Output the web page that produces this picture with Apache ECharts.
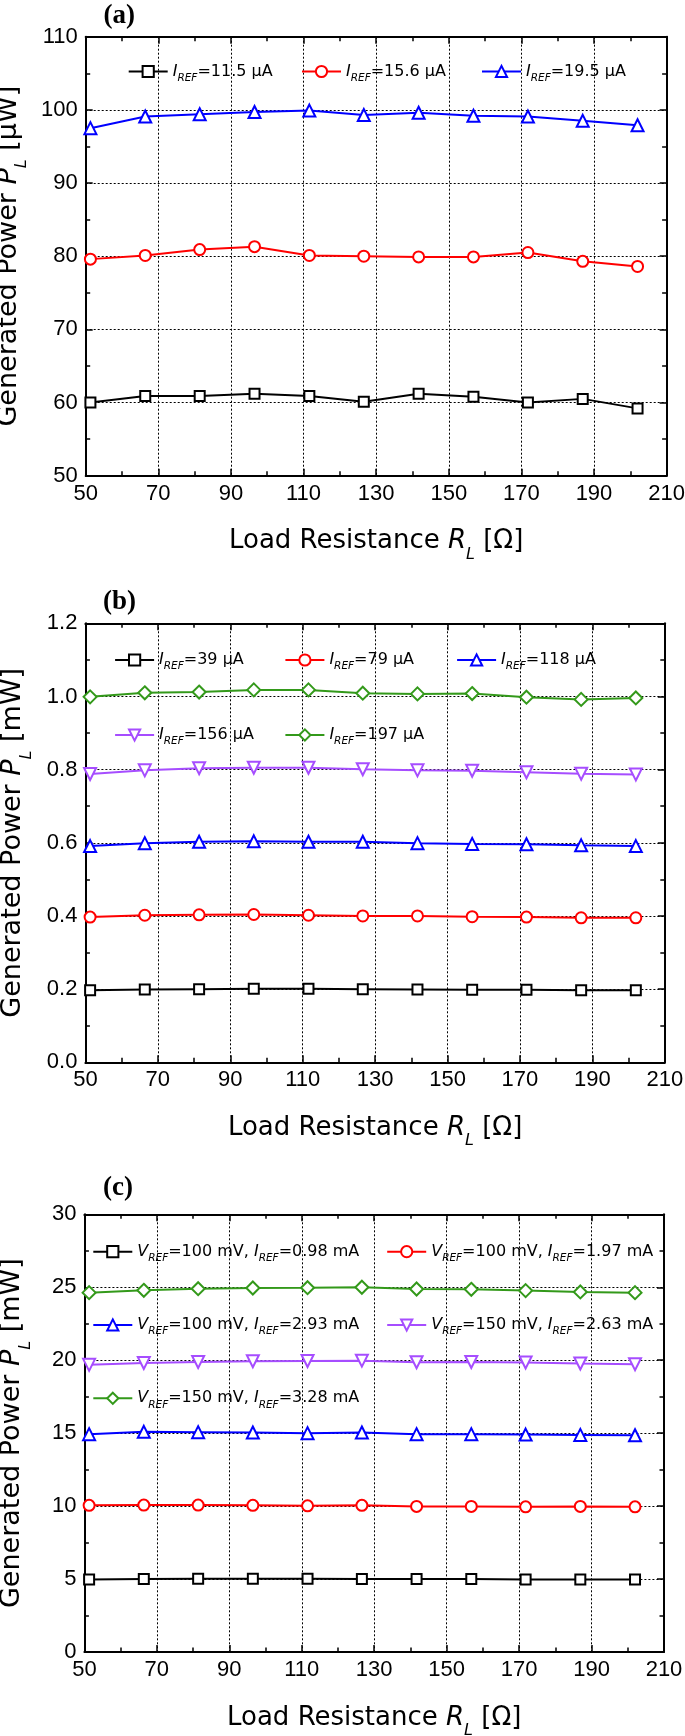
<!DOCTYPE html>
<html>
<head>
<meta charset="utf-8">
<script src="https://cdn.jsdelivr.net/npm/echarts@6/dist/echarts.min.js"></script>
<style>
  html, body { margin: 0; padding: 0; background: #fff; }
  #chart { width: 685px; height: 1736px; }
</style>
</head>
<body>
<div id="chart"></div>
<script>
// ---------- data ----------
const loadR = [51.3, 66.4, 81.4, 96.5, 111.6, 126.6, 141.7, 156.8, 171.8, 186.9, 202.0];
const xTicks = [50, 70, 90, 110, 130, 150, 170, 190, 210];

// panel (a) [µW]
const aNames = ['I_REF=11.5 μA', 'I_REF=15.6 μA', 'I_REF=19.5 μA'];
const a_I11_5 = [60.0, 60.9, 60.9, 61.2, 60.9, 60.1, 61.2, 60.8, 60.0, 60.5, 59.2];
const a_I15_6 = [79.6, 80.1, 80.9, 81.3, 80.1, 80.0, 79.9, 79.9, 80.5, 79.3, 78.6];
const a_I19_5 = [97.5, 99.1, 99.4, 99.7, 99.9, 99.3, 99.6, 99.2, 99.1, 98.5, 97.9];

// panel (b) [mW]
const bNames = ['I_REF=39 μA', 'I_REF=79 μA', 'I_REF=118 μA', 'I_REF=156 μA', 'I_REF=197 μA'];
const b_I39 = [0.197, 0.199, 0.200, 0.201, 0.201, 0.200, 0.199, 0.198, 0.198, 0.197, 0.197];
const b_I79 = [0.397, 0.402, 0.403, 0.404, 0.402, 0.400, 0.400, 0.398, 0.397, 0.395, 0.395];
const b_I118 = [0.591, 0.599, 0.603, 0.604, 0.603, 0.603, 0.599, 0.597, 0.596, 0.593, 0.591];
const b_I156 = [0.788, 0.798, 0.804, 0.805, 0.805, 0.801, 0.798, 0.797, 0.793, 0.789, 0.787];
const b_I197 = [0.999, 1.010, 1.012, 1.018, 1.018, 1.009, 1.007, 1.008, 0.998, 0.992, 0.996];

// panel (c) [mW]
const cNames = ['V_REF=100 mV, I_REF=0.98 mA', 'V_REF=100 mV, I_REF=1.97 mA', 'V_REF=100 mV, I_REF=2.93 mA',
                'V_REF=150 mV, I_REF=2.63 mA', 'V_REF=150 mV, I_REF=3.28 mA'];
const c_V100_I098 = [4.97, 5.00, 5.02, 5.02, 5.02, 5.00, 5.00, 5.00, 4.97, 4.97, 4.97];
const c_V100_I197 = [10.05, 10.07, 10.07, 10.05, 10.02, 10.05, 9.98, 9.98, 9.95, 9.98, 9.95];
const c_V100_I293 = [14.93, 15.09, 15.07, 15.04, 15.00, 15.04, 14.93, 14.93, 14.90, 14.88, 14.86];
const c_V150_I263 = [19.68, 19.81, 19.88, 19.93, 19.95, 19.97, 19.86, 19.88, 19.84, 19.77, 19.73];
const c_V150_I328 = [24.63, 24.79, 24.90, 24.95, 24.97, 25.00, 24.88, 24.86, 24.77, 24.68, 24.63];

const yTicksA = [50, 60, 70, 80, 90, 100, 110];
const yTicksB = [0.0, 0.2, 0.4, 0.6, 0.8, 1.0, 1.2];
const yTicksC = [0, 5, 10, 15, 20, 25, 30];

// ---------- styling ----------
const TXT = 'DejaVu Sans';
const NUM = '"Liberation Sans", Arial, Helvetica, sans-serif';
const BLACK = '#000000', RED = '#ff0000', BLUE = '#0000ff', PURPLE = '#a64dff', GREEN = '#33991a';

const styles = [
  { color: BLACK, symbol: 'rect', size: 10, rot: 0 },
  { color: RED, symbol: 'circle', size: 11, rot: 0 },
  { color: BLUE, symbol: 'triangle', size: 12, rot: 0 },
  { color: PURPLE, symbol: 'triangle', size: 12, rot: 180 },
  { color: GREEN, symbol: 'diamond', size: 13, rot: 0 }
];

const grids = [
  { left: 85.7, top: 36.7, width: 580.9, height: 439 },
  { left: 85.4, top: 623.3, width: 579.4, height: 439 },
  { left: 84.4, top: 1214.3, width: 579.6, height: 437.7 }
];

function nameRich(fs) {
  return {
    n: { fontFamily: TXT, fontSize: fs, lineHeight: 42, color: '#000' },
    i: { fontFamily: TXT, fontSize: fs, lineHeight: 42, fontStyle: 'italic', color: '#000' },
    s: { fontFamily: TXT, fontSize: 16, lineHeight: 16, fontStyle: 'italic', verticalAlign: 'bottom', color: '#000' }
  };
}
const legendRich = {
  n: { fontFamily: TXT, fontSize: 16, lineHeight: 24, color: '#000' },
  i: { fontFamily: TXT, fontSize: 16, lineHeight: 24, fontStyle: 'italic', color: '#000' },
  s: { fontFamily: TXT, fontSize: 10.5, lineHeight: 10, fontStyle: 'italic', verticalAlign: 'bottom', color: '#000' }
};
function richName(name) {
  return name.split(/([IV])_REF/).map((p, k) => k % 2 ? `{i|${p}}{s|REF}` : (p ? `{n|${p}}` : '')).join('');
}

const xAxes = [], yAxes = [], series = [], legends = [];

function frameAxis(common, extra) { return Object.assign({}, common, extra); }

function addPanel(g, yT, yFmt, unit, names, datasets) {
  const xCommon = {
    type: 'value', gridIndex: g, min: xTicks[0], max: xTicks[xTicks.length - 1], interval: xTicks[1] - xTicks[0],
    axisLine: { show: true, onZero: false, lineStyle: { color: '#000', width: 2 } },
    axisTick: { show: true, inside: true, length: 7, lineStyle: { color: '#000', width: 1.5 } },
    minorTick: { show: true, splitNumber: 2, length: 4.5, lineStyle: { color: '#000', width: 1.5 } },
    splitLine: { show: false }
  };
  xAxes.push(frameAxis(xCommon, {
    position: 'bottom',
    axisLabel: { show: true, fontFamily: NUM, fontSize: 22, color: '#000', margin: 7, showMinLabel: true, showMaxLabel: true },
    splitLine: { show: true, lineStyle: { color: '#000', width: 1, type: [2, 2] } },
    name: '{n|Load Resistance }{i|R}{s|L}{n| [Ω]}',
    nameLocation: 'middle', nameGap: 45,
    nameTextStyle: { rich: nameRich(26) }
  }));
  xAxes.push(frameAxis(xCommon, { position: 'top', axisLabel: { show: false } }));

  const yCommon = {
    type: 'value', gridIndex: g, min: yT[0], max: yT[yT.length - 1], interval: +(yT[1] - yT[0]).toFixed(6),
    axisLine: { show: true, onZero: false, lineStyle: { color: '#000', width: 2 } },
    axisTick: { show: true, inside: true, length: 7, lineStyle: { color: '#000', width: 1.5 } },
    minorTick: { show: true, splitNumber: 2, length: 4.5, lineStyle: { color: '#000', width: 1.5 } },
    splitLine: { show: false }
  };
  yAxes.push(frameAxis(yCommon, {
    position: 'left',
    axisLabel: { show: true, fontFamily: NUM, fontSize: 22, color: '#000', margin: 8, formatter: yFmt, showMinLabel: true, showMaxLabel: true },
    splitLine: { show: true, lineStyle: { color: '#000', width: 1, type: [2, 2] } },
    name: `{n|Generated Power }{i|P}{s|L}{n| [${unit}]}`,
    nameLocation: 'middle', nameGap: 51,
    nameTextStyle: { rich: nameRich(27) }
  }));
  yAxes.push(frameAxis(yCommon, { position: 'right', axisLabel: { show: false } }));

  datasets.forEach((vals, k) => {
    const st = styles[k];
    series.push({
      type: 'line', name: names[k], xAxisIndex: 2 * g, yAxisIndex: 2 * g,
      data: loadR.map((x, j) => [x, vals[j]]),
      color: st.color,
      symbol: st.symbol, symbolSize: st.size, symbolRotate: st.rot, showAllSymbol: true,
      lineStyle: { color: st.color, width: 2 },
      itemStyle: { color: '#ffffff', borderColor: st.color, borderWidth: 2 },
      emphasis: { disabled: true },
      z: 3 + k
    });
  });
}

addPanel(0, yTicksA, v => String(v), 'μW', aNames, [a_I11_5, a_I15_6, a_I19_5]);
addPanel(1, yTicksB, v => v.toFixed(1), 'mW', bNames, [b_I39, b_I79, b_I118, b_I156, b_I197]);
addPanel(2, yTicksC, v => String(v), 'mW', cNames, [c_V100_I098, c_V100_I197, c_V100_I293, c_V150_I263, c_V150_I328]);

// legend placement: [series name, left of line, center y]
const LEG_H = 14;
const legendPlaces = [
  [aNames[0], 127.7, 70.5], [aNames[1], 301, 70.5], [aNames[2], 481, 70.5],
  [bNames[0], 114.1, 659], [bNames[1], 284.4, 659], [bNames[2], 456.1, 659],
  [bNames[3], 114.1, 734], [bNames[4], 284.4, 734],
  [cNames[0], 92.3, 1250.7], [cNames[1], 386.2, 1250.7],
  [cNames[2], 92.3, 1324], [cNames[3], 386.2, 1324],
  [cNames[4], 92.3, 1397.3]
];
legendPlaces.forEach(([nm, lx, cy]) => {
  legends.push({
    data: [nm], left: lx, top: cy - LEG_H / 2, padding: 0, itemGap: 0,
    itemWidth: 39, itemHeight: LEG_H, selectedMode: false,
    formatter: n => richName(n),
    textStyle: { rich: legendRich, color: '#000' }
  });
});

const panelLabels = [['(a)', 103.5, 16.3], ['(b)', 103, 602.5], ['(c)', 103, 1188.3]];

const chart = echarts.init(document.getElementById('chart'), null, { renderer: 'canvas' });
chart.setOption({
  animation: false,
  backgroundColor: '#ffffff',
  grid: grids.map(g => Object.assign({ containLabel: false, outerBoundsMode: 'none' }, g)),
  xAxis: xAxes,
  yAxis: yAxes,
  legend: legends,
  series: series,
  graphic: panelLabels.map(([t, x, y]) => ({
    type: 'text', x: x, y: y,
    style: { text: t, fontFamily: '"Liberation Serif", "Times New Roman", serif', fontWeight: 'bold', fontSize: 27, fill: '#000', verticalAlign: 'middle', align: 'left' }
  }))
});
</script>
</body>
</html>
